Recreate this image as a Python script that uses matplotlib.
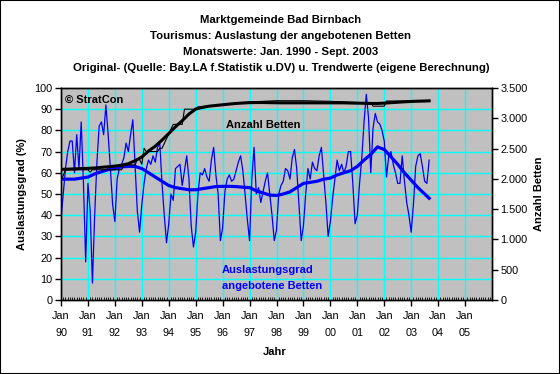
import matplotlib
matplotlib.use("Agg")
import matplotlib.pyplot as plt
from matplotlib.ticker import MultipleLocator, FuncFormatter
from matplotlib.patches import Rectangle

plt.rcParams['font.family'] = ['Liberation Sans', 'DejaVu Sans']

# Auslastungsgrad (%) monthly, Jan 1990 - Sept. 2003
occ_1990 = [38, 50, 62, 70, 75, 75, 60, 78, 62, 84, 55, 18]
occ_1991 = [55, 42, 8, 40, 65, 82, 84, 78, 92, 78, 62, 45]
occ_1992 = [37, 57, 62, 64, 67, 74, 70, 78, 85, 63, 42, 32]
occ_1993 = [45, 55, 62, 66, 64, 68, 65, 72, 74, 55, 40, 27]
occ_1994 = [36, 50, 47, 62, 63, 64, 54, 61, 68, 57, 35, 25]
occ_1995 = [32, 50, 60, 59, 62, 58, 56, 66, 72, 59, 50, 28]
occ_1996 = [34, 51, 57, 59, 56, 57, 61, 65, 68, 61, 50, 38]
occ_1997 = [28, 57, 72, 50, 53, 46, 51, 56, 60, 50, 40, 28]
occ_1998 = [33, 50, 54, 56, 62, 61, 57, 67, 71, 62, 45, 28]
occ_1999 = [35, 50, 62, 57, 65, 62, 61, 68, 72, 59, 46, 30]
occ_2000 = [37, 48, 57, 66, 61, 64, 60, 63, 70, 70, 55, 36]
occ_2001 = [40, 55, 67, 84, 97, 86, 60, 81, 88, 84, 83, 80]
occ_2002 = [75, 58, 68, 70, 64, 60, 55, 55, 68, 56, 46, 40]
occ_2003 = [32, 45, 63, 68, 69, 63, 56, 55, 66]
occupancy = (occ_1990 + occ_1991 + occ_1992 + occ_1993 + occ_1994 + occ_1995
             + occ_1996 + occ_1997 + occ_1998 + occ_1999 + occ_2000
             + occ_2001 + occ_2002 + occ_2003)

# Trend Auslastung (read quarterly, month index from Jan 1990)
occ_trend_month = [0, 3, 6, 9, 12, 15, 18, 21, 24, 27, 30, 33, 36, 39, 42, 45,
                   48, 51, 54, 57, 60, 63, 66, 69, 72, 75, 78, 81, 84, 87, 90, 93,
                   96, 99, 102, 105, 108, 111, 114, 117, 120, 123, 126, 129,
                   132, 135, 138, 141, 144, 147, 150, 153, 156, 159, 162, 164]
occ_trend = [57, 57, 57, 57.5, 58, 59.5, 60.5, 61.5, 62, 62.8, 63, 63, 62, 60, 58, 56,
             54, 53, 52.5, 52, 52, 52.5, 53, 53.5, 53.6, 53.6, 53.5, 53.2, 53, 51.5, 50.5, 49.5,
             49.3, 50, 51, 53, 55, 55.5, 56, 57, 57.5, 59, 60, 61, 63, 66, 68.7, 72.2,
             71, 67.5, 64, 60, 56.5, 53, 50, 48]

# Anzahl Betten (monthly values, read at change points)
beds_month = [0, 2, 12, 13, 14, 27, 28, 33, 34, 35, 36, 37, 38, 43, 44, 45, 50, 54,
              55, 60, 61, 72, 84, 96, 108, 120, 132, 138, 139, 144, 145, 164]
beds = [1960, 2150, 2150, 2110, 2150, 2150, 2230, 2230, 2320, 2320, 2240, 2505, 2450,
        2450, 2505, 2505, 2900, 2900, 3150, 3150, 3190, 3215, 3270, 3290, 3290, 3280,
        3260, 3260, 3200, 3200, 3285, 3285]

# Trend Betten (quarterly)
beds_trend_month = occ_trend_month
beds_trend = [2156, 2160, 2165, 2170, 2173, 2180, 2190, 2200, 2211, 2225, 2250, 2300,
              2360, 2460, 2540, 2640, 2748, 2860, 2960, 3070, 3152, 3180, 3200, 3212,
              3223, 3235, 3245, 3252, 3258, 3260, 3260, 3258, 3256, 3255, 3255, 3255,
              3255, 3255, 3255, 3255, 3255, 3255, 3255, 3252, 3250, 3248, 3245, 3245,
              3250, 3258, 3265, 3272, 3278, 3282, 3285, 3288]

year_ticks = list(range(1990, 2006))
year_labels = ["Jan\n" + str(y)[2:] for y in year_ticks]

title_lines = ["Marktgemeinde Bad Birnbach",
               "Tourismus: Auslastung der angebotenen Betten",
               "Monatswerte: Jan. 1990 - Sept. 2003",
               "Original- (Quelle: Bay.LA f.Statistik u.DV) u. Trendwerte (eigene Berechnung)"]


def to_year(m):
    return 1990 + m / 12.0


W, H = 560, 374
fig = plt.figure(figsize=(W / 100, H / 100), dpi=100)
fig.patch.set_facecolor("white")
fig.patches.append(Rectangle((0, 0), 1, 1, transform=fig.transFigure,
                             fill=False, edgecolor="black", linewidth=1.5))


def px(x, y):
    return x / W, 1 - y / H


l, r, t, b = 61, 492, 88, 300
ax = fig.add_axes([l / W, 1 - b / H, (r - l) / W, (b - t) / H])
ax.set_facecolor("#C0C0C0")
ax2 = ax.twinx()

occ_x = [to_year(i) for i in range(len(occupancy))]
ax.plot(occ_x, occupancy, color="#0000FF", lw=0.9, zorder=3)
ax.plot([to_year(m) for m in occ_trend_month], occ_trend, color="#0000FF", lw=2.3, zorder=4)

ax2.plot([to_year(m) for m in beds_month], beds, color="black", lw=0.8)
ax2.plot([to_year(m) for m in beds_trend_month], beds_trend, color="black", lw=2.2)

ax.set_xlim(1990, 2006)
ax.set_ylim(0, 100)
ax2.set_ylim(0, 3500)

ax.set_xticks(year_ticks)
ax.set_xticklabels(year_labels, fontsize=7.8, linespacing=1.8)
ax.xaxis.set_minor_locator(MultipleLocator(1 / 12))
ax.yaxis.set_major_locator(MultipleLocator(10))
ax2.yaxis.set_major_locator(MultipleLocator(500))
ax2.yaxis.set_major_formatter(FuncFormatter(lambda v, p: f"{int(v):,}".replace(",", ".")))

ax.tick_params(axis="x", which="major", direction="out", length=4, width=1, pad=4)
ax.tick_params(axis="x", which="minor", direction="in", length=2, width=0.6)
ax.tick_params(axis="y", direction="out", length=4, width=1, labelsize=7.8, pad=2)
ax2.tick_params(axis="y", direction="out", length=4, width=1, labelsize=7.8, pad=2)

# vertical grid every year, horizontal grid every 10 %
for yr in range(1991, 2006):
    ax.axvline(yr, color="#00FFFF", lw=1, zorder=1)
for v in range(10, 100, 10):
    ax.axhline(v, color="#00FFFF", lw=1, zorder=1)

for a in (ax, ax2):
    for s in a.spines.values():
        s.set_color("black")
        s.set_linewidth(1)

for i, line in enumerate(title_lines):
    fig.text(*px(281, 20 + 16 * i), line, ha="center", va="center",
             fontsize=8.2, fontweight="bold")

fig.text(*px(22, 194), "Auslastungsgrad (%)", rotation=90, ha="center", va="center",
         fontsize=8, fontweight="bold")
fig.text(*px(539, 194), "Anzahl Betten", rotation=90, ha="center", va="center",
         fontsize=8, fontweight="bold")
fig.text(*px(275, 352), "Jahr", ha="center", va="center", fontsize=8, fontweight="bold")

fig.text(*px(65, 100), "© StratCon", ha="left", va="center", fontsize=8, fontweight="bold")
fig.text(*px(226, 125), "Anzahl Betten", ha="left", va="center", fontsize=8, fontweight="bold")
fig.text(*px(222, 270), "Auslastungsgrad", ha="left", va="center", fontsize=8,
         fontweight="bold", color="#0000FF")
fig.text(*px(222, 286), "angebotene Betten", ha="left", va="center", fontsize=8,
         fontweight="bold", color="#0000FF")

fig.savefig("out.png", dpi=100)
